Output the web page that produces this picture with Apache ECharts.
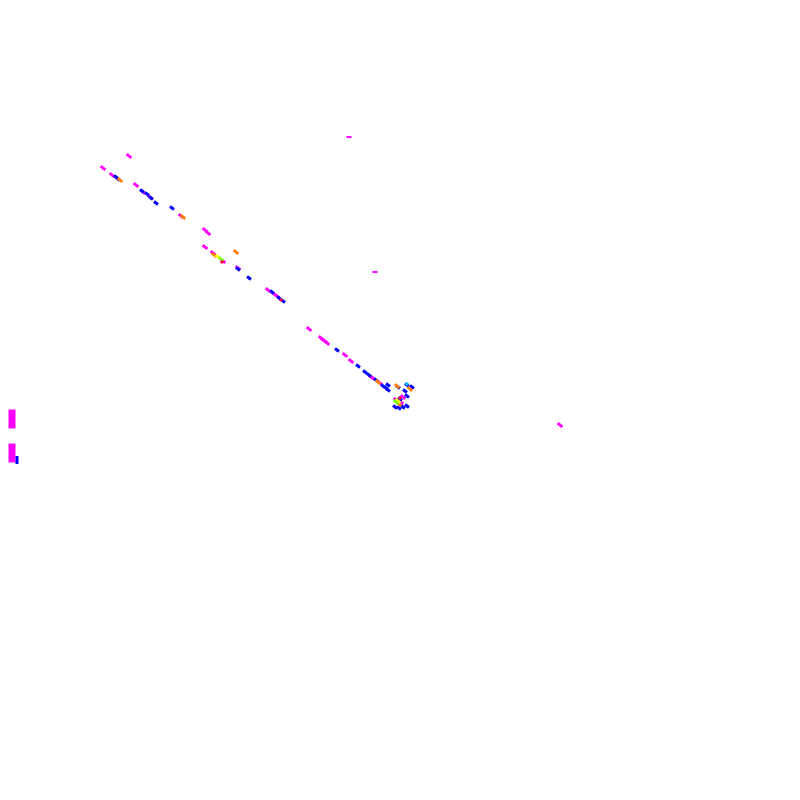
<!DOCTYPE html>
<html><head><meta charset="utf-8">
<script src="https://cdn.jsdelivr.net/npm/echarts@6/dist/echarts.min.js"></script>
<style>html,body{margin:0;padding:0;background:#fff}#c{width:800px;height:800px}</style>
</head><body><div id="c"></div>
<script>
const magentaPts = [[129,156],[103,168],[112,175],[136,185],[143,192],[150,197],[181,216],[205,230],[208,233],[205,247],[213,253],[223,261],[238,268],[268,290],[274,294],[277,296],[309,329],[321,338],[323,340],[325,341],[327,343],[345,355],[351,361],[371,377],[373,378],[380,383],[403,397],[396,400],[401,402],[560,425]];
const magentaFlatPts = [[349,137],[375,272]];
const bluePts = [[116,177],[118,179],[142,191],[147,194],[151,198],[156,203],[172,208],[238,269],[249,278],[272,292],[279,298],[283,301],[337,350],[358,366],[365,372],[369,375],[376,380],[383,386],[386,388],[388,390],[388,385],[398,387],[407,385],[412,387],[405,391],[407,396],[395,407],[399,408],[403,407],[407,406],[397,402],[400,399]];
const orangePts = [[120,180],[183,217],[214,255],[236,252],[378,382],[397,386],[410,389],[399,404]];
const yellowPts = [[218,257],[398,401]];
const greenPts = [[221,259],[396,402]];
const redPts = [[222,262],[281,300],[400,398]];
const cyanPts = [[407,384]];
const edgeMagentaPts = [[12,419],[12,453]];
const edgeBluePts = [[17,460]];

const base = {type:'scatter', symbol:'rect', symbolSize:[6,3], symbolRotate:-38, silent:true, animation:false};
function s(data,color,extra){return Object.assign({},base,{data:data,itemStyle:{color:color,opacity:1}},extra||{});}
const chart = echarts.init(document.getElementById('c'));
chart.setOption({
  animation:false,
  grid:{left:0,right:0,top:0,bottom:0},
  xAxis:{type:'value',min:0,max:800,show:false},
  yAxis:{type:'value',min:0,max:800,inverse:true,show:false},
  series:[
    s(magentaPts,'#ff00ff'),
    s(magentaFlatPts,'#ff00ff',{symbolRotate:0,symbolSize:[5,2]}),
    s(bluePts,'#0000ff',{symbolSize:[5,3]}),
    s(orangePts,'#ff8000'),
    s(yellowPts,'#ffff00'),
    s(greenPts,'#80ff00'),
    s(redPts,'#ff0040',{symbolSize:[3,3]}),
    s(cyanPts,'#00c0ff',{symbolSize:[3,3]}),
    s(edgeMagentaPts,'#ff00ff',{symbolRotate:0,symbolSize:[7,19]}),
    s(edgeBluePts,'#0000ff',{symbolRotate:0,symbolSize:[3,8]})
  ]
});
</script></body></html>
